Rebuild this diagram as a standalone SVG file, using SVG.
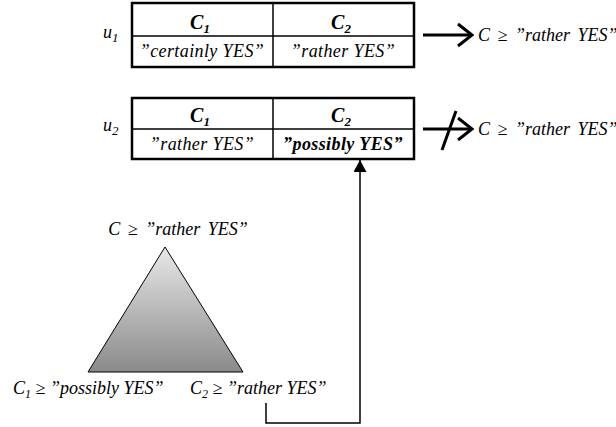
<svg xmlns="http://www.w3.org/2000/svg" width="616" height="427" viewBox="0 0 616 427">
<style>
text{font-family:"Liberation Serif","Times New Roman",serif;font-style:italic;fill:#000}
.t{font-size:18px}
.c{letter-spacing:0.4px}
.w{word-spacing:3px}
.h{font-size:20px;font-weight:bold}
.b{font-weight:bold}
.outer{fill:#fff;stroke:#000;stroke-width:2.5}
.inner{stroke:#000;stroke-width:1.5;fill:none}
.arr{stroke:#000;stroke-width:3;fill:none}
.con{stroke:#000;stroke-width:1.5;fill:none}
</style>
<defs>
<linearGradient id="g" x1="0" y1="0" x2="0" y2="1">
<stop offset="0" stop-color="#e8e8e8"/>
<stop offset="1" stop-color="#8a8a8a"/>
</linearGradient>
<marker id="ah" viewBox="0 0 12 13" refX="12" refY="6.5" markerWidth="12" markerHeight="13" markerUnits="userSpaceOnUse" orient="auto">
<path d="M0,0 L12,6.5 L0,13 z" fill="#000"/>
</marker>
</defs>
<g id="u1">
<text class="t" x="103" y="38">u<tspan font-size="13" dy="4">1</tspan></text>
<rect class="outer" x="132" y="3" width="282" height="64"/>
<line class="inner" x1="132" y1="36" x2="414" y2="36"/>
<line class="inner" x1="273" y1="3" x2="273" y2="67"/>
<text class="h" x="200" y="29" text-anchor="middle">C<tspan font-size="13" dy="4">1</tspan></text>
<text class="h" x="341" y="29" text-anchor="middle">C<tspan font-size="13" dy="4">2</tspan></text>
<text class="t c" x="202" y="57" text-anchor="middle">”certainly YES”</text>
<text class="t c" x="343" y="57" text-anchor="middle">”rather YES”</text>
</g>
<g id="u2">
<text class="t" x="103" y="131">u<tspan font-size="13" dy="4">2</tspan></text>
<rect class="outer" x="132" y="98" width="282" height="61"/>
<line class="inner" x1="132" y1="129" x2="414" y2="129"/>
<line class="inner" x1="273" y1="98" x2="273" y2="159"/>
<text class="h" x="200" y="122" text-anchor="middle">C<tspan font-size="13" dy="4">1</tspan></text>
<text class="h" x="341" y="122" text-anchor="middle">C<tspan font-size="13" dy="4">2</tspan></text>
<text class="t c" x="202" y="150" text-anchor="middle">”rather YES”</text>
<text class="t c b" x="343" y="150" text-anchor="middle">”possibly YES”</text>
</g>
<g id="result1">
<text class="t w" x="478" y="41">C ≥ ”rather YES”</text>
</g>
<g id="result2">
<text class="t w" x="478" y="135">C ≥ ”rather YES”</text>
</g>
<g id="triangle">
<polygon points="165,247 88,372 243,372" fill="url(#g)" stroke="#000" stroke-width="1"/>
<text class="t w" x="178" y="235" text-anchor="middle">C ≥ ”rather YES”</text>
</g>
<g id="leaf1">
<text class="t" x="13" y="394">C<tspan font-size="12" dy="4">1</tspan><tspan dy="-4"> ≥ ”possibly YES”</tspan></text>
</g>
<g id="leaf2">
<text class="t" x="190" y="394">C<tspan font-size="12" dy="4">2</tspan><tspan dy="-4"> ≥ ”rather YES”</tspan></text>
</g>
<g id="connectors">
<line class="arr" x1="423" y1="35" x2="472" y2="35"/>
<polyline class="arr" points="458,24 472,35 458,46"/>
<line class="arr" x1="423" y1="129" x2="472" y2="129"/>
<polyline class="arr" points="458,118 472,129 458,140"/>
<line class="arr" x1="442" y1="150" x2="456" y2="111" stroke-width="2.5"/>
<path class="con" d="M266,403 V423 H360 V160" marker-end="url(#ah)"/>
</g>
</svg>
